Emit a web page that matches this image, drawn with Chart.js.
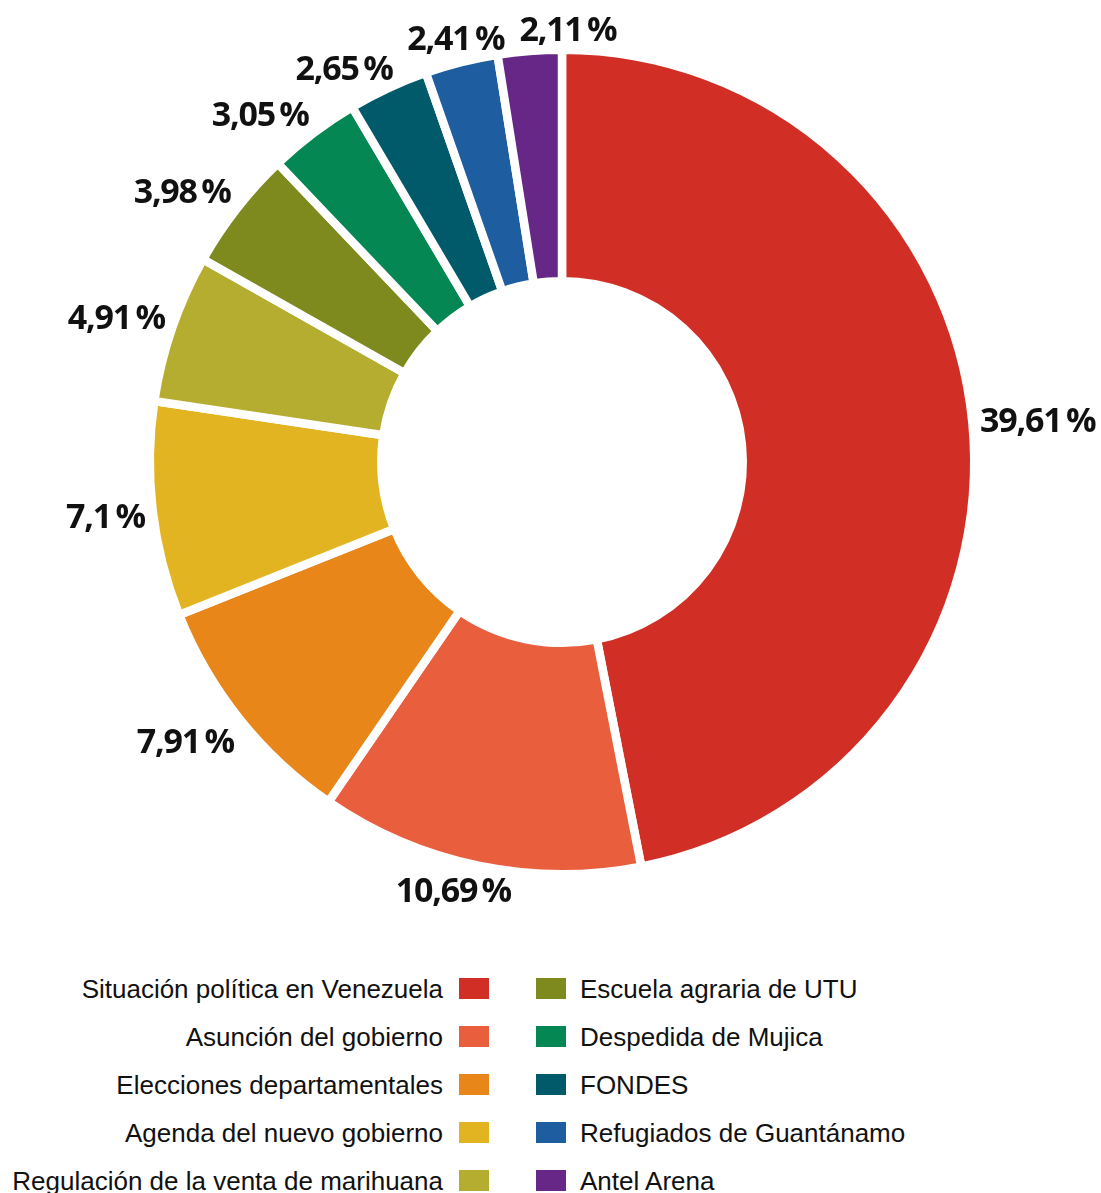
<!DOCTYPE html>
<html>
<head>
<meta charset="utf-8">
<script src="https://cdn.jsdelivr.net/npm/chart.js@4.4.0/dist/chart.umd.min.js"></script>
<style>
  html, body { margin: 0; padding: 0; background: #fff; }
  #wrap { position: relative; width: 1101px; height: 1193px; overflow: hidden; }
  #chartBox { position: absolute; left: 0; top: 0; width: 1101px; height: 940px; }
  .leg { position: absolute; font-family: "Liberation Sans", Arial, sans-serif; font-size: 26px; color: #111; white-space: nowrap; line-height: 30px; }
  .box { position: absolute; width: 30px; height: 21px; }
</style>
</head>
<body>
<div id="wrap">
  <div id="chartBox"><canvas id="c"></canvas></div>
  <div id="legend"></div>
</div>
<script>
const categories = [
  "Situación política en Venezuela",
  "Asunción del gobierno",
  "Elecciones departamentales",
  "Agenda del nuevo gobierno",
  "Regulación de la venta de marihuana",
  "Escuela agraria de UTU",
  "Despedida de Mujica",
  "FONDES",
  "Refugiados de Guantánamo",
  "Antel Arena"
];
const values = [39.61, 10.69, 7.91, 7.1, 4.91, 3.98, 3.05, 2.65, 2.41, 2.11];
const colors = ["#D12F25", "#E95F3E", "#E88619", "#E3B422", "#B5AD2F",
                "#7E891E", "#048752", "#015A6A", "#1E5D9F", "#662786"];

function fmt(v) { return String(v).replace('.', ',') + '\u2009%'; }

const outsideLabels = {
  id: 'outsideLabels',
  afterDraw(chart) {
    const ctx = chart.ctx;
    const meta = chart.getDatasetMeta(0);
    ctx.save();
    ctx.font = 'bold 34px "Open Sans", "DejaVu Sans", sans-serif';
    try { ctx.letterSpacing = '-1.2px'; } catch (e) {}
    ctx.fillStyle = '#111';
    ctx.textAlign = 'center';
    ctx.textBaseline = 'middle';
    const h = 30, pad = 14;
    const placed = [];
    const clamp = t => Math.max(-1, Math.min(1, t));
    function boxAt(p, ang, w) {
      const dx = Math.cos(ang), dy = Math.sin(ang);
      const D = p.outerRadius - 4.25 + 12;
      const ax = p.x + dx * D, ay = p.y + dy * D;
      const x = ax + clamp(2 * dx) * w / 2;
      const y = ay + clamp(2 * dy) * h / 2;
      return { x, y, l: x - w / 2, r: x + w / 2, t: y - h / 2, b: y + h / 2 };
    }
    function overlaps(a, b) {
      return a.l < b.r + pad && a.r + pad > b.l && a.t < b.b && a.b > b.t;
    }
    meta.data.forEach((arc, i) => {
      const p = arc.getProps(['x', 'y', 'startAngle', 'endAngle', 'outerRadius'], true);
      let ang = (p.startAngle + p.endAngle) / 2;
      const txt = fmt(values[i]);
      const w = ctx.measureText(txt).width;
      let bx = boxAt(p, ang, w);
      let guard = 0;
      while (placed.some(q => overlaps(bx, q)) && guard < 200) {
        ang += 0.005;
        bx = boxAt(p, ang, w);
        guard++;
      }
      placed.push(bx);
      ctx.fillText(txt, bx.x, bx.y + 4);
    });
    ctx.restore();
  }
};

new Chart(document.getElementById('c'), {
  type: 'doughnut',
  data: {
    labels: categories,
    datasets: [{
      data: values,
      backgroundColor: colors,
      borderColor: '#ffffff',
      borderWidth: 8.5,
      borderJoinStyle: 'miter',
      hoverOffset: 0
    }]
  },
  options: {
    responsive: true,
    maintainAspectRatio: false,
    animation: false,
    radius: 412.25,
    cutout: '43.84%',
    layout: { padding: { left: 23, right: 0, top: 0, bottom: 16 } },
    plugins: { legend: { display: false }, tooltip: { enabled: false } }
  },
  plugins: [outsideLabels]
});

// Legend (two columns)
const legend = document.getElementById('legend');
const rowY0 = 988.5, rowGap = 48;
categories.forEach((name, i) => {
  const col = i < 5 ? 0 : 1;
  const row = i % 5;
  const cy = rowY0 + row * rowGap;
  const sw = document.createElement('div');
  sw.className = 'box';
  sw.style.background = colors[i];
  sw.style.top = (cy - 10.5) + 'px';
  const t = document.createElement('div');
  t.className = 'leg';
  t.textContent = name;
  t.style.top = (cy - 15) + 'px';
  if (col === 0) {
    sw.style.left = '459px';
    t.style.right = (1101 - 443) + 'px';
  } else {
    sw.style.left = '536px';
    t.style.left = '580px';
  }
  legend.appendChild(sw);
  legend.appendChild(t);
});
</script>
</body>
</html>
